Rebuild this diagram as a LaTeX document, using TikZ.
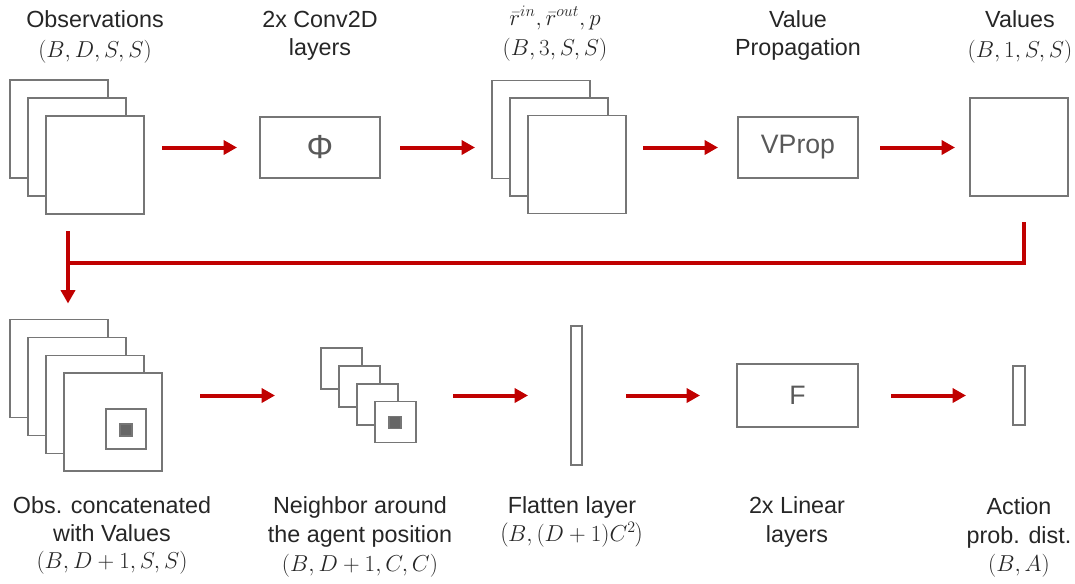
\documentclass[tikz,border=0pt]{standalone}
\usepackage{fontspec}
\setmainfont{Liberation Sans}
\usetikzlibrary{arrows.meta}
\definecolor{arred}{HTML}{C00000}
\definecolor{boxgray}{HTML}{767676}
\definecolor{txt}{HTML}{262626}
\definecolor{intxt}{HTML}{595959}
\definecolor{dotgray}{HTML}{666666}
\begin{document}
\begin{tikzpicture}[x=0.75pt,y=-0.75pt,
 sq/.style={draw=boxgray,line width=1.3pt,fill=white,inner sep=0pt,outer sep=0pt},
 dotsq/.style={draw=boxgray,line width=1pt,fill=dotgray,inner sep=0pt,outer sep=0pt,minimum width=9pt,minimum height=9pt},
 lab/.style={text=txt,font=\fontsize{17.5}{21}\selectfont,anchor=base,inner sep=0pt},
 mlab/.style={text=txt,font=\fontsize{16.5}{21}\selectfont,anchor=base,inner sep=0pt},
 intx/.style={text=intxt,font=\fontsize{20}{24}\selectfont},
 arr/.style={draw=arred,line width=3pt,-{Triangle[length=10pt,width=10.5pt]}},
 rline/.style={draw=arred,line width=3pt}
]
\useasboundingbox (0,0) rectangle (1075,583);

% ---------- top row ----------
\node[sq,minimum width=73.5pt,minimum height=73.5pt] (o1) at (59,129) {};
\node[sq,minimum width=73.5pt,minimum height=73.5pt] (o2) at (77,147) {};
\node[sq,minimum width=73.5pt,minimum height=73.5pt] (o3) at (95,165) {};

\node[sq,text=intxt,font=\fontsize{25}{28}\selectfont,minimum width=90pt,minimum height=45.75pt] (phi) at (320,147.5) {Φ};

\node[sq,minimum width=73.5pt,minimum height=73.5pt] (r1) at (541,129.5) {};
\node[sq,minimum width=73.5pt,minimum height=73.5pt] (r2) at (559,147) {};
\node[sq,minimum width=73.5pt,minimum height=73.5pt] (r3) at (577,164.5) {};

\node[sq,intx,minimum width=90pt,minimum height=45.75pt] (vp) at (798,147.5) {VProp};

\node[sq,minimum width=73.5pt,minimum height=73.5pt] (val) at (1019,147) {};

% top labels
\node[lab] (t1a) at (95,27) {Observations};
\node[mlab] (t1b) at (95,57) {$(B,D,S,S)$};
\node[lab] (t2a) at (320,27) {2x Conv2D};
\node[lab] (t2b) at (320,55) {layers};
\node[mlab] (t3a) at (555,25) {$\bar{r}^{in},\bar{r}^{out},p$};
\node[mlab] (t3b) at (555,55) {$(B,3,S,S)$};
\node[lab] (t4a) at (798,27) {Value};
\node[lab] (t4b) at (798,55) {Propagation};
\node[lab] (t5a) at (1020,27) {Values};
\node[mlab] (t5b) at (1020,57) {$(B,1,S,S)$};

% top arrows
\draw[arr,shorten <=13.5pt,shorten >=17.25pt] (phi.west -| o3.east) -- (phi.west);
\draw[arr,shorten <=15pt,shorten >=12.75pt] (phi.east) -- (phi.east -| r1.west);
\draw[arr,shorten <=12.75pt,shorten >=15pt] (vp.west -| r3.east) -- (vp.west);
\draw[arr,shorten <=16.5pt,shorten >=11.25pt] (vp.east) -- (vp.east -| val.west);

% ---------- bottom row ----------
\node[sq,minimum width=73.5pt,minimum height=73.5pt] (b1) at (59,368.5) {};
\node[sq,minimum width=73.5pt,minimum height=73.5pt] (b2) at (77,386.5) {};
\node[sq,minimum width=73.5pt,minimum height=73.5pt] (b3) at (95,404.5) {};
\node[sq,minimum width=73.5pt,minimum height=73.5pt] (b4) at (113,422) {};
\node[sq,minimum width=30pt,minimum height=30pt] (bin) at (126,429) {};
\node[dotsq] (bdot) at (126,430) {};

\node[sq,minimum width=30.75pt,minimum height=30.75pt] (n1) at (341.5,368.5) {};
\node[sq,minimum width=30.75pt,minimum height=30.75pt] (n2) at (359.5,386.5) {};
\node[sq,minimum width=30.75pt,minimum height=30.75pt] (n3) at (377.5,404.5) {};
\node[sq,minimum width=30.75pt,minimum height=30.75pt] (n4) at (395.5,422) {};
\node[dotsq] (ndot) at (395,422.5) {};

\node[sq,minimum width=8.25pt,minimum height=104.25pt] (fl) at (576.5,395.5) {};
\node[sq,intx,minimum width=90.75pt,minimum height=47.25pt] (ff) at (797.5,395.5) {F};
\node[sq,minimum width=9pt,minimum height=44.25pt] (act) at (1019,395.5) {};

% bottom labels
\node[lab] (u1a) at (112,513) {Obs. concatenated};
\node[lab] (u1b) at (112,541) {with Values};
\node[mlab] (u1c) at (112,568) {$(B,D+1,S,S)$};
\node[lab] (u2a) at (360,513) {Neighbor around};
\node[lab] (u2b) at (360,542) {the agent position};
\node[mlab] (u2c) at (360,571) {$(B,D+1,C,C)$};
\node[lab] (u3a) at (572,513) {Flatten layer};
\node[mlab] (u3b) at (572,541) {$\left(B,(D+1)C^2\right)$};
\node[lab] (u4a) at (797,513) {2x Linear};
\node[lab] (u4b) at (797,542) {layers};
\node[lab] (u5a) at (1019,514) {Action};
\node[lab] (u5b) at (1019,543) {prob. dist.};
\node[mlab] (u5c) at (1019,571) {$(B,A)$};

% bottom arrows
\draw[arr,shorten <=28.5pt,shorten >=34.5pt] (fl.center -| b4.east) -- (fl.center -| n1.west);
\draw[arr,shorten <=27.75pt,shorten >=32.25pt] (fl.west -| n4.east) -- (fl.west);
\draw[arr,shorten <=33pt,shorten >=27.75pt] (fl.east) -- (fl.east -| ff.west);
\draw[arr,shorten <=24.75pt,shorten >=35.25pt] (ff.east) -- (ff.east -| act.west);

% return connector
\coordinate (vc) at (1024,222);
\coordinate (jn) at (68,263);
\coordinate (dn) at (68,231);
\draw[rline] (vc) |- (jn);
\draw[arr,shorten >=12pt] (dn) -- (dn |- b1.north);
\end{tikzpicture}
\end{document}
